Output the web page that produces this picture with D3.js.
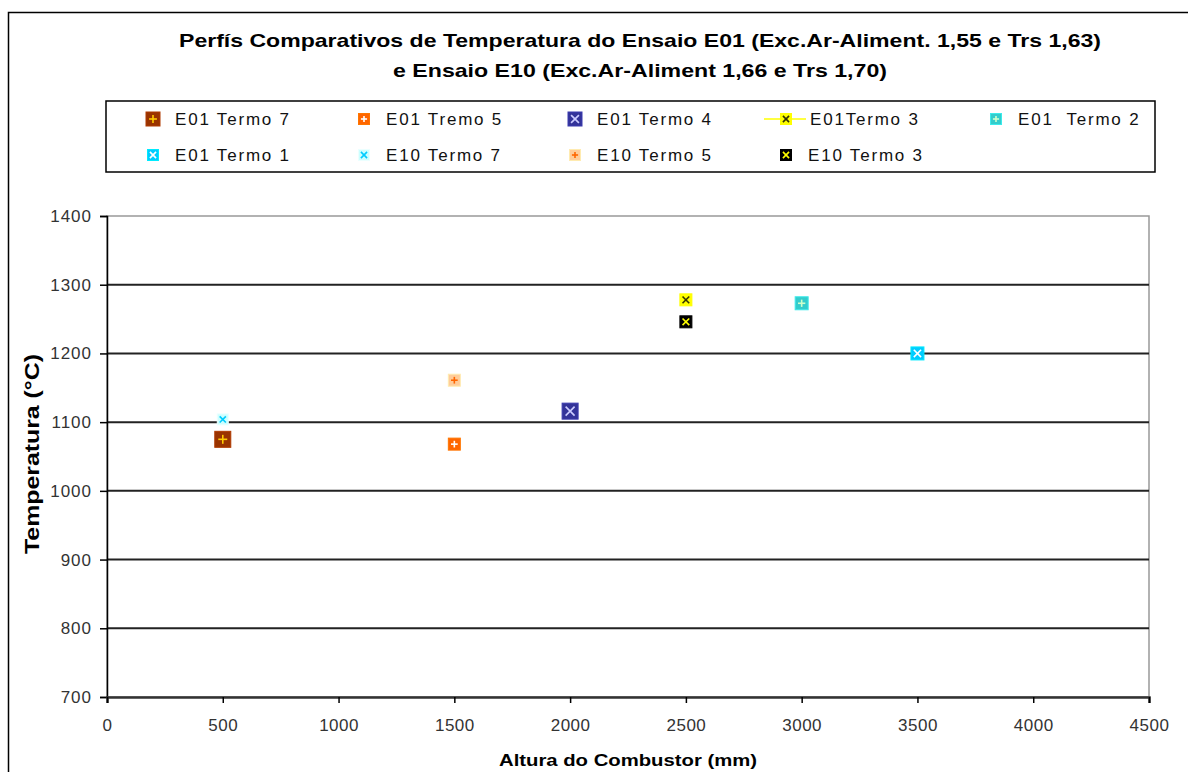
<!DOCTYPE html>
<html>
<head>
<meta charset="utf-8">
<script src="https://cdn.jsdelivr.net/npm/d3@7"></script>
<style>
  body { margin: 0; background: #fff; }
  svg text { font-family: "Liberation Sans", Arial, sans-serif; }
</style>
</head>
<body>
<div id="chart"></div>
<script>
// series data
const seriesNames = ["E01 Termo 7", "E01 Tremo 5", "E01 Termo 4", "E01Termo 3", "E01  Termo 2",
                     "E01 Termo 1", "E10 Termo 7", "E10 Termo 5", "E10 Termo 3"]
const alturas = [500, 1500, 2000, 2500, 3000, 3500, 500, 1500, 2500]
const temperaturas = [1075, 1068, 1116, 1278, 1273, 1200, 1104, 1161, 1246]
const xTicks = [0, 500, 1000, 1500, 2000, 2500, 3000, 3500, 4000, 4500]
const yTicks = [700, 800, 900, 1000, 1100, 1200, 1300, 1400]

// marker styles (per series)
const fills = ["#993300", "#FF6600", "#333399", "#FFFF00", "#33CCCC", "#00CCFF", "#CCFFFF", "#FFCC99", "#000000"]
const glyphs = ["plus", "plus", "x", "x", "plus", "x", "x", "plus", "x"]
const glyphColors = ["#FFCC00", "#FFFFFF", "#CCCCFF", "#333300", "#CCFFCC", "#FFFFFF", "#00CCFF", "#FF6600", "#FFFF00"]
const sizes = [16, 12, 16, 12, 13, 13, 11, 12, 12]

const W = 1188, H = 772
const margin = { left: 107, right: 1149, top: 216, bottom: 697 }

const svg = d3.select("#chart").append("svg")
  .attr("width", W)
  .attr("height", H)

// outer chart frame
svg.append("rect")
  .attr("x", 8.5).attr("y", 12.5)
  .attr("width", W + 20).attr("height", H + 20)
  .attr("fill", "none").attr("stroke", "#000").attr("stroke-width", 1.5)

// title
const title = svg.append("text")
  .attr("text-anchor", "middle")
  .attr("font-weight", "bold")
  .attr("font-size", 19)
  .attr("fill", "#000")
title.append("tspan").attr("x", 640).attr("y", 47)
  .attr("textLength", 922).attr("lengthAdjust", "spacingAndGlyphs")
  .text("Perfís Comparativos de Temperatura do Ensaio E01 (Exc.Ar-Aliment. 1,55 e Trs 1,63)")
title.append("tspan").attr("x", 640).attr("y", 77)
  .attr("textLength", 494).attr("lengthAdjust", "spacingAndGlyphs")
  .text("e Ensaio E10 (Exc.Ar-Aliment 1,66 e Trs 1,70)")

const x = d3.scaleLinear().domain([0, 4500]).range([margin.left, margin.right])
const y = d3.scaleLinear().domain([700, 1400]).range([margin.bottom, margin.top])

// plot area border (gray)
svg.append("rect")
  .attr("x", margin.left).attr("y", margin.top)
  .attr("width", margin.right - margin.left).attr("height", margin.bottom - margin.top)
  .attr("fill", "none").attr("stroke", "#999").attr("stroke-width", 1.5)

// gridlines
svg.append("g")
  .selectAll("line")
  .data(yTicks.filter(d => d > 700 && d < 1400))
  .enter().append("line")
  .attr("x1", margin.left).attr("x2", margin.right)
  .attr("y1", d => y(d)).attr("y2", d => y(d))
  .attr("stroke", "#222").attr("stroke-width", 2)

// axes
const yAxis = svg.append("g")
  .attr("transform", `translate(${margin.left},0)`)
  .call(d3.axisLeft(y).tickValues(yTicks).tickSize(7).tickPadding(8).tickFormat(d3.format("d")))
yAxis.select(".domain").attr("stroke", "#000").attr("stroke-width", 1.5)
yAxis.selectAll(".tick line").attr("stroke", "#000").attr("stroke-width", 1.5)
yAxis.selectAll("text").attr("font-size", 17).attr("letter-spacing", 1).attr("fill", "#333")

const xAxis = svg.append("g")
  .attr("transform", `translate(0,${margin.bottom})`)
  .call(d3.axisBottom(x).tickValues(xTicks).tickSize(6).tickPadding(16).tickFormat(d3.format("d")))
xAxis.select(".domain").attr("stroke", "#333").attr("stroke-width", 2.5)
xAxis.selectAll(".tick line").attr("stroke", "#000").attr("stroke-width", 1.5)
xAxis.selectAll("text").attr("font-size", 17).attr("letter-spacing", 0.5).attr("fill", "#333")

// axis titles
svg.append("text")
  .attr("x", 628).attr("y", 766)
  .attr("text-anchor", "middle")
  .attr("font-size", 17).attr("font-weight", "bold")
  .attr("textLength", 258).attr("lengthAdjust", "spacingAndGlyphs")
  .text("Altura do Combustor (mm)")

svg.append("text")
  .attr("transform", "translate(39,454) rotate(-90)")
  .attr("text-anchor", "middle")
  .attr("font-size", 21).attr("font-weight", "bold")
  .attr("textLength", 200).attr("lengthAdjust", "spacingAndGlyphs")
  .text("Temperatura (°C)")

// marker drawing helper
function drawMarker(g, i, s) {
  const h = s / 2
  g.append("rect")
    .attr("x", -h).attr("y", -h)
    .attr("width", s).attr("height", s)
    .attr("fill", fills[i])
    .attr("stroke", d3.color(fills[i]).brighter(0.4))
    .attr("stroke-width", 1)
  const k = s * 0.28
  const gl = glyphs[i] === "plus"
    ? [[-k, 0, k, 0], [0, -k, 0, k]]
    : [[-k, -k, k, k], [-k, k, k, -k]]
  g.selectAll("line.glyph")
    .data(gl)
    .enter().append("line")
    .attr("class", "glyph")
    .attr("x1", d => d[0]).attr("y1", d => d[1])
    .attr("x2", d => d[2]).attr("y2", d => d[3])
    .attr("stroke", glyphColors[i])
    .attr("stroke-width", 1.6)
}

// points
seriesNames.forEach((name, i) => {
  const g = svg.append("g")
    .attr("transform", `translate(${x(alturas[i])},${y(temperaturas[i])})`)
  drawMarker(g, i, sizes[i])
})

// legend
svg.append("rect")
  .attr("x", 106).attr("y", 101)
  .attr("width", 1049).attr("height", 71)
  .attr("fill", "#fff").attr("stroke", "#000").attr("stroke-width", 1.5)

const legendCols = [153, 364, 575, 786, 996]
const legendRows = [119, 155]
seriesNames.forEach((name, i) => {
  const col = i < 5 ? i : i - 5
  const row = i < 5 ? 0 : 1
  const lx = legendCols[col]
  const ly = legendRows[row]
  const g = svg.append("g").attr("transform", `translate(${lx},${ly})`)
  if (i === 3) {
    g.append("line")
      .attr("x1", -22).attr("x2", 20).attr("y1", 0).attr("y2", 0)
      .attr("stroke", "#FFFF00").attr("stroke-width", 1.5)
  }
  drawMarker(g, i, i === 0 || i === 2 ? 14 : 11)
  svg.append("text")
    .attr("x", lx + (i === 3 ? 24 : 22)).attr("y", ly + 6)
    .attr("font-size", 17).attr("fill", "#111")
    .attr("letter-spacing", 1.8)
    .attr("xml:space", "preserve")
    .text(name)
})
</script>
</body>
</html>
